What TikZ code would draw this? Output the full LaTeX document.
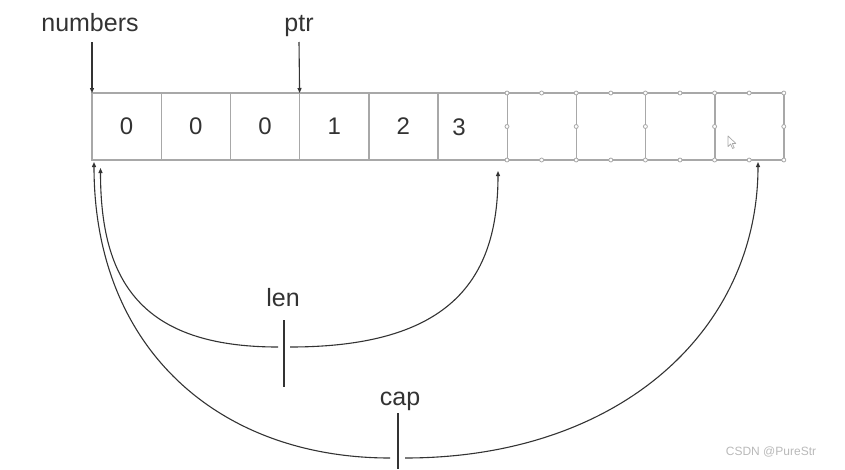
\documentclass[tikz,border=0pt]{standalone}
\usepackage{fontspec}
\setmainfont{Liberation Sans}
\usetikzlibrary{arrows.meta}
\definecolor{ink}{HTML}{333333}
\definecolor{grid}{HTML}{A8A8A8}
\begin{document}
\begin{tikzpicture}[x=1pt,y=-1pt,
  cell/.style={draw=grid,line width=1.4pt,minimum width=69.2pt,minimum height=67pt,inner sep=0pt,outer sep=0pt,text=ink,font=\fontsize{24}{28}\selectfont},
  lbl/.style={text=ink,font=\fontsize{25}{30}\selectfont,inner sep=0pt,anchor=base},
  arr/.style={draw=ink,line width=1.1pt,-{Triangle[length=5pt,width=4pt]}},
  curve/.style={draw=ink,line width=1.1pt},
  tick/.style={draw=ink,line width=1.2pt},
  handle/.style={draw=grid,fill=white,line width=0.8pt},
]
\useasboundingbox (0,0) rectangle (845,469);
% cells
\foreach \i/\t in {1/0,2/0,3/0,4/1,5/2,6/{},7/{},8/{},9/{},10/{}} {
  \node[cell] (c\i) at ({92+69.2*(\i-1)+34.6},126.5) {\t};
}
\node[text=ink,inner sep=0pt,font=\fontsize{24}{28}\selectfont] (d6) at (459,127) {3};
% handles on empty cells
\foreach \x in {507,541.6,576.2,610.8,645.4,680,714.6,749.2,783.8} {
  \draw[handle] (\x,93) circle (2pt);
  \draw[handle] (\x,160) circle (2pt);
}
\foreach \x in {507,576.2,645.4,714.6,783.8} {
  \draw[handle] (\x,126.5) circle (2pt);
}
% cursor
\draw[grid,line width=0.7pt,fill=white,line join=round] (728,136) -- (728,146.5) -- (730.6,144) -- (732.6,148.5) -- (734.2,147.8) -- (732.3,143.4) -- (735.8,143.4) -- cycle;
% labels and pointer arrows
\node[lbl] (numbers) at (90,31.5) {numbers};
\node[lbl] (ptr) at (299,31.5) {ptr};
\coordinate (nt) at (92,42);
\coordinate (pt) at (299,42);
\draw[arr] (nt) -- (c1.north west);
\draw[arr] (pt) -- (c4.north west);
% len
\node[lbl] (len) at (283,306) {len};
\coordinate (lenL) at (100.5,168);
\coordinate (lenR) at (498,171);
\coordinate (lenA) at (278,347);
\coordinate (lenB) at (290,347);
\draw[arr] (lenA) .. controls (140,347) and (100.5,280) .. (lenL);
\draw[arr] (lenB) .. controls (450,347) and (498,280) .. (lenR);
\coordinate (lenT1) at (284,320);
\coordinate (lenT2) at (284,387);
\draw[tick] (lenT1) -- (lenT2);
% cap
\node[lbl] (cap) at (400,405) {cap};
\coordinate (capL) at (94,162);
\coordinate (capR) at (758,162);
\coordinate (capA) at (390,458);
\coordinate (capB) at (405,458);
\draw[arr] (capA) .. controls (220,458) and (94,350) .. (capL);
\draw[arr] (capB) .. controls (620,458) and (758,330) .. (capR);
\coordinate (capT1) at (398,413);
\coordinate (capT2) at (398,469);
\draw[tick] (capT1) -- (capT2);
% watermark
\node[text=grid!80,font=\fontsize{12}{14}\selectfont,inner sep=0pt] (wm) at (771,452) {CSDN @PureStr};
\end{tikzpicture}
\end{document}
